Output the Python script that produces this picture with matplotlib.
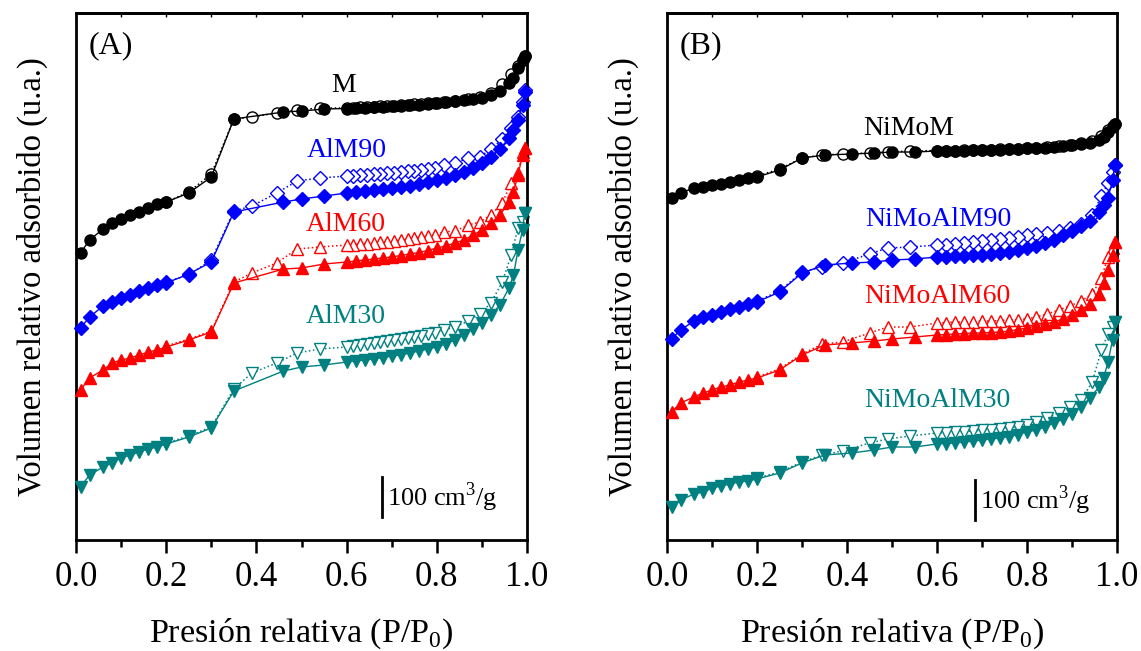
import matplotlib
matplotlib.use("Agg")
import matplotlib.pyplot as plt
from matplotlib.ticker import MultipleLocator

# ------------------ DATA ------------------
# relative pressure grids (adsorption / desorption branches)
p_ads_a = [0.01, 0.03, 0.06, 0.08, 0.10, 0.12, 0.14, 0.16, 0.18, 0.20, 0.25, 0.30, 0.35, 0.46, 0.50, 0.55,
           0.60, 0.62, 0.64, 0.66, 0.68, 0.70, 0.72, 0.74, 0.76, 0.78, 0.80, 0.82, 0.84, 0.86, 0.88, 0.90,
           0.92, 0.94, 0.96, 0.97, 0.98, 0.99, 0.995]
p_des_a = [0.995, 0.99, 0.98, 0.965, 0.945, 0.92, 0.895, 0.87, 0.84, 0.815,
           0.795, 0.78, 0.765, 0.75, 0.735, 0.72, 0.705, 0.69, 0.675, 0.66, 0.645, 0.63, 0.615, 0.60,
           0.54, 0.49, 0.445, 0.39, 0.35, 0.30, 0.25, 0.20]
p_ads_b = [0.01, 0.03, 0.06, 0.08, 0.10, 0.12, 0.14, 0.16, 0.18, 0.20, 0.25, 0.30, 0.35, 0.41, 0.46, 0.50, 0.55,
           0.60, 0.62, 0.64, 0.66, 0.68, 0.70, 0.72, 0.74, 0.76, 0.78, 0.80, 0.82, 0.84, 0.86, 0.88, 0.90,
           0.92, 0.94, 0.96, 0.97, 0.98, 0.99, 0.995]
p_des_b = [0.995, 0.99, 0.98, 0.965, 0.945, 0.92, 0.895, 0.87, 0.845, 0.82,
           0.80, 0.78, 0.76, 0.74, 0.72, 0.70, 0.68, 0.66, 0.64, 0.62, 0.60,
           0.54, 0.49, 0.45, 0.39, 0.345, 0.30, 0.25, 0.20]

# volumes, stacked with offsets (u.a.; 40 u.a. = 100 cm3/g)
m_ads = [287, 300, 311, 317, 321, 325, 328, 332, 336, 338, 347, 363, 421, 428, 429, 431,
         431.5, 432, 432.5, 433, 433.5, 434, 434.5, 435, 435.5, 436, 437, 438, 439, 440, 441, 442.5,
         445, 449, 457, 462, 472, 480, 484]
m_des = [484, 480, 474, 466, 456, 447, 443, 441, 439.5, 438.5,
         437.5, 437, 436.5, 436, 435.5, 435, 434.5, 434, 434, 433.5, 433, 433, 432.5, 432,
         432, 430, 427, 423, 421, 366, 348, 338]
alm90_ads = [212, 223, 234, 238, 242, 245, 249, 252, 255, 257, 266, 278, 328, 338, 341, 344,
             347, 348, 349, 350, 351, 352, 353, 354.5, 356, 358, 360, 362, 365, 368, 372, 377,
             383, 391, 402, 410, 420, 435, 448]
alm90_des = [450, 438, 423, 412, 401, 391, 383, 382, 377, 375,
             372, 371, 370, 369.5, 369, 368, 367.5, 367, 366.5, 366, 365.5, 365, 364.5, 364,
             362, 359, 347, 334, 329, 280, 265, 258]
alm60_ads = [150, 162, 170, 177, 180, 182, 185, 188, 190, 193, 200, 208, 257, 271, 272, 276,
             278, 279, 280, 281, 282, 283, 284.5, 286, 287.5, 289.5, 292, 294, 297, 300, 305, 310,
             317, 325, 338, 348, 365, 385, 392]
alm60_des = [392, 388, 367, 357, 337, 325, 318, 315, 309, 308,
             305, 304, 303, 302, 301, 300, 299, 298.5, 298, 297, 296.5, 296, 295.5, 295,
             293, 291, 277, 267, 258, 209, 201, 194]
alm30_ads = [53, 65, 73, 77, 82, 85, 88, 91, 93, 96, 103, 112, 149, 169, 173, 175,
             178, 179, 180, 181, 182.5, 184, 185, 187, 189, 191, 193, 196, 200, 205, 211, 217,
             225, 235, 252, 265, 290, 310, 327]
alm30_des = [327, 318, 312, 285, 258, 237, 226, 219, 213, 210,
             207, 206, 204.5, 203, 202, 201, 200, 199, 198, 197, 196, 195, 194, 193,
             191, 187, 177, 167, 151, 113, 104, 97]

nimom_ads = [342, 347, 352, 353, 355, 356, 358, 360, 362, 363, 370, 382, 385, 386, 387, 388, 388,
             389, 389, 389.5, 389.5, 390, 390, 390.5, 390.5, 391, 391.5, 392, 392, 392.5, 393, 394,
             395, 396, 397, 400, 403, 408, 413, 416]
nimom_des = [416, 414, 410, 404, 399, 397, 395, 394, 393, 392.5,
             392, 391.5, 391, 391, 390.5, 390.5, 390, 390, 389.5, 389.5, 389.5,
             389, 388, 387, 386, 385, 382, 371, 364]
nimoalm90_ads = [201, 210, 219, 223, 225, 228, 231, 233, 236, 238, 248, 267, 275, 277, 278, 280, 281,
                 283, 283.5, 284, 284.5, 285, 285.5, 286, 287, 288.5, 290, 292, 294, 297, 300, 305,
                 309, 314, 319, 328, 335, 342, 360, 375]
nimoalm90_des = [375, 368, 357, 344, 325, 316, 312, 309, 307, 306,
                 305, 303.5, 302, 301, 300, 299, 298, 297, 296, 295.5, 295,
                 293, 292, 286, 277, 273, 268, 249, 239]
nimoalm60_ads = [128, 137, 143, 147, 150, 153, 155, 158, 160, 162, 170, 185, 195, 197, 199, 201, 203,
                 205, 205.5, 206, 206.5, 207, 207, 207.5, 208, 209, 210.5, 212, 214, 216, 218, 221,
                 225, 230, 236, 246, 257, 270, 285, 298]
nimoalm60_des = [298, 292, 283, 262, 246, 239, 234, 230, 226, 223,
                 221, 220.5, 220, 219.5, 219, 219, 218.5, 218, 218, 217.5, 217,
                 213, 213, 207, 198, 196, 186, 171, 163]
nimoalm30_ads = [33, 40, 46, 48, 52, 54, 56, 58, 59, 61, 67, 77, 85, 87, 90, 93, 93,
                 96, 96.5, 97, 98, 99, 100, 101, 102, 103.5, 105.5, 108, 110, 113, 117, 121,
                 126, 133, 142, 153, 162, 178, 200, 218]
nimoalm30_des = [218, 213, 206, 190, 158, 140, 133, 127, 122, 118,
                 115, 113.5, 112.5, 111.5, 110.5, 110, 109, 108.5, 108, 107.5, 107,
                 104, 101, 97, 89, 85, 78, 68, 62]

names_a = ["M", "AlM90", "AlM60", "AlM30"]
names_b = ["NiMoM", "NiMoAlM90", "NiMoAlM60", "NiMoAlM30"]
scale_bar = 40  # u.a. equivalent to 100 cm3/g

# ------------------ STYLE ------------------
plt.rcParams['font.family'] = ['Liberation Serif', 'DejaVu Serif']
plt.rcParams['mathtext.fontset'] = 'custom'
plt.rcParams['mathtext.rm'] = 'Liberation Serif'

colors = ['black', '#0000FF', '#FF0000', '#008080']
markers = ['o', 'D', '^', 'v']
msizes = [8, 7, 8.5, 8.5]

# label anchor (x, baseline y) per curve
lab_a = [(0.594, 448), (0.601, 383), (0.599, 309), (0.599, 217)]
lab_b = [(0.538, 405), (0.602, 314), (0.600, 237), (0.600, 133)]


def draw_panel(ax, p_ads, p_des, ads_list, des_list, names, lab_pos, tag, bar_x, bar_y0):
    for i in range(4):
        c = colors[i]
        ax.plot(p_des, des_list[i], ls=':', lw=1.1, color=c, marker=markers[i],
                ms=msizes[i], mfc='white', mec=c, mew=1.0, clip_on=False, zorder=2)
        ax.plot(p_ads, ads_list[i], ls='-', lw=1.0, color=c, marker=markers[i],
                ms=msizes[i], mfc=c, mec=c, clip_on=False, zorder=3)
        ax.text(lab_pos[i][0], lab_pos[i][1], names[i], color=c, fontsize=20,
                ha='center', va='baseline')

    ax.text(0.029, 487, tag, fontsize=23, ha='left', va='baseline')

    # scale bar
    ax.plot([bar_x, bar_x], [bar_y0, bar_y0 + scale_bar], color='black', lw=2)
    ax.text(bar_x + 0.012, bar_y0 + scale_bar / 2, r'100 cm$^3$/g', fontsize=19,
            ha='left', va='center')

    ax.set_xlim(0, 1.0)
    ax.set_ylim(0, 527)
    ax.set_yticks([])
    ax.xaxis.set_major_locator(MultipleLocator(0.2))
    ax.xaxis.set_minor_locator(MultipleLocator(0.1))
    ax.xaxis.set_major_formatter(plt.FormatStrFormatter('%.1f'))
    ax.tick_params(axis='x', which='major', direction='out', length=9, width=1.8,
                   labelsize=25, pad=6)
    ax.tick_params(axis='x', which='minor', direction='out', length=5, width=1.8)
    for s in ax.spines.values():
        s.set_linewidth(2)
    ax.set_xlabel(r'Presión relativa (P/P$_0$)', fontsize=24.5, labelpad=16)
    ax.set_ylabel('Volumen relativo adsorbido (u.a.)', fontsize=23.5, labelpad=20)

    # small inward ticks on the top edge
    top = ax.secondary_xaxis('top')
    top.xaxis.set_major_locator(MultipleLocator(0.2))
    top.xaxis.set_minor_locator(MultipleLocator(0.1))
    top.tick_params(which='both', direction='in', length=3, width=1, labeltop=False)
    top.spines['top'].set_linewidth(2)


fig = plt.figure(figsize=(11.41, 6.51), dpi=100)
ax1 = fig.add_axes([0.0666, 0.1705, 0.3953, 0.8095])
ax2 = fig.add_axes([0.5846, 0.1705, 0.3944, 0.8095])

draw_panel(ax1, p_ads_a, p_des_a,
           [m_ads, alm90_ads, alm60_ads, alm30_ads],
           [m_des, alm90_des, alm60_des, alm30_des],
           names_a, lab_a, '(A)', 0.678, 23)
draw_panel(ax2, p_ads_b, p_des_b,
           [nimom_ads, nimoalm90_ads, nimoalm60_ads, nimoalm30_ads],
           [nimom_des, nimoalm90_des, nimoalm60_des, nimoalm30_des],
           names_b, lab_b, '(B)', 0.684, 20)

plt.savefig("out.png", dpi=100)
